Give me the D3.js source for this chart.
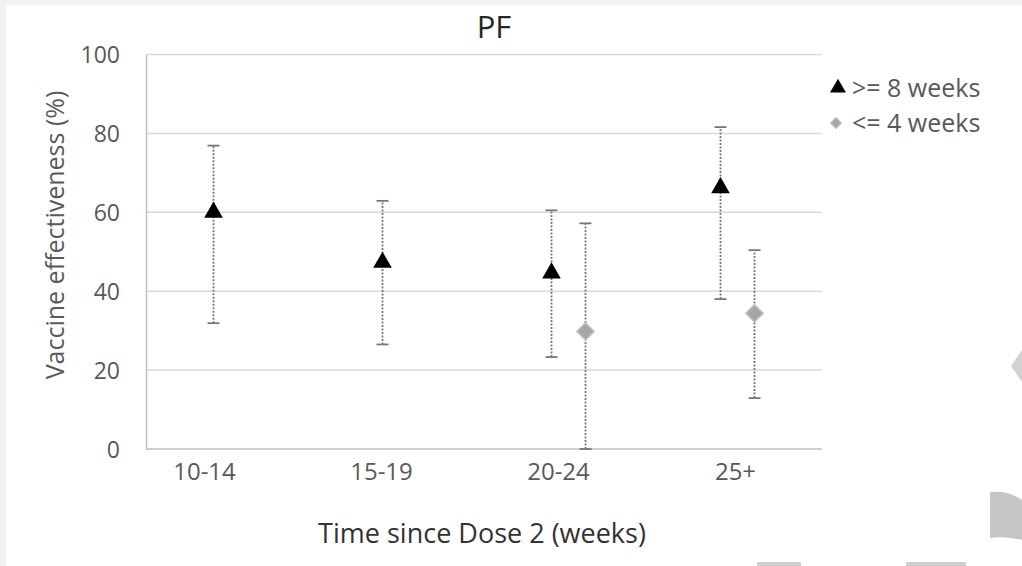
<!DOCTYPE html>
<html>
<head>
<meta charset="utf-8">
<script src="https://cdn.jsdelivr.net/npm/d3@7"></script>
<style>
	body { margin: 0; background: #f1f1f1; }
	svg { display: block; }
	text { font-family: "Open Sans", sans-serif; }
</style>
</head>
<body>
<div id="chart"></div>
<script>
/**
 * Chart data.
 */
var categories = ["10-14", "15-19", "20-24", "25+"];
var seriesNames = [">= 8 weeks", "<= 4 weeks"];
// >= 8 weeks: point estimate and 95% CI.
var long8Value = [60, 47.3, 44.6, 66.2];
var long8Lower = [31.9, 26.5, 23.3, 38];
var long8Upper = [76.9, 62.9, 60.5, 81.6];
// <= 4 weeks (only last two periods).
var short4Cats = ["20-24", "25+"];
var short4Value = [29.8, 34.4];
var short4Lower = [0, 12.9];
var short4Upper = [57.2, 50.4];
var yTicks = [0, 20, 40, 60, 80, 100];

{
	var width = 1022,
		height = 566,
		margin = { top: 54.5, right: 200, bottom: 117, left: 146 };

	var svg = d3.select("#chart").append("svg")
		.attr("width", width)
		.attr("height", height);

	// white card with grey frame on top/left
	svg.append("rect")
		.attr("x", 6).attr("y", 5)
		.attr("width", width - 6).attr("height", height - 5)
		.attr("fill", "#fff");

	// faint scan artefacts on the right edge
	svg.append("path")
		.attr("d", "M1011,366 L1022,350 L1022,382 Z")
		.attr("fill", "#d2d2d2");
	svg.append("path")
		.attr("d", "M990,492 Q1008,490 1022,500 L1022,540 Q1004,536 990,538 Z")
		.attr("fill", "#c6c6c6");
	svg.append("rect").attr("x", 757).attr("y", 562).attr("width", 44).attr("height", 4).attr("fill", "#cfcfcf");
	svg.append("rect").attr("x", 906).attr("y", 562).attr("width", 60).attr("height", 4).attr("fill", "#cfcfcf");

	var x = d3.scaleBand()
		.domain(categories)
		.range([margin.left, 822]);

	// the category labels sit slightly off the marker centres in the source
	var xLabel = d3.scalePoint()
		.domain(categories)
		.range([204, 735]);

	var xs = d3.scalePoint()
		.domain(seriesNames)
		.range([-17, 17]);

	var y = d3.scaleLinear()
		.domain([0, 100])
		.range([449, margin.top]);

	// gridlines
	svg.append("g")
		.selectAll("line")
		.data(yTicks.filter(function (d) { return d > 0; }))
		.enter().append("line")
		.attr("x1", margin.left).attr("x2", 822)
		.attr("y1", function (d) { return y(d); })
		.attr("y2", function (d) { return y(d); })
		.attr("stroke", "#d9d9d9")
		.attr("stroke-width", 1.5);

	// y axis
	var yAxis = svg.append("g")
		.attr("transform", "translate(" + margin.left + ",0)")
		.call(d3.axisLeft(y).tickValues(yTicks).tickSize(0).tickPadding(26));
	yAxis.select(".domain").attr("stroke", "#bfbfbf").attr("stroke-width", 1.5);
	yAxis.selectAll("text")
		.attr("fill", "#595959")
		.style("font-size", "23px")
		.attr("dy", "0.35em");

	// x axis
	svg.append("line")
		.attr("x1", margin.left).attr("x2", 822)
		.attr("y1", y(0)).attr("y2", y(0))
		.attr("stroke", "#bfbfbf")
		.attr("stroke-width", 1.5);

	var xAxis = svg.append("g")
		.attr("transform", "translate(0,449)")
		.call(d3.axisBottom(xLabel).tickSize(0).tickPadding(14));
	xAxis.select(".domain").remove();
	xAxis.selectAll("text")
		.attr("fill", "#595959")
		.style("font-size", "24px");

	// build rows
	var rows = [];
	categories.forEach(function (c, i) {
		rows.push({ cat: c, s: seriesNames[0], v: long8Value[i], lo: long8Lower[i], hi: long8Upper[i] });
	});
	short4Cats.forEach(function (c, i) {
		rows.push({ cat: c, s: seriesNames[1], v: short4Value[i], lo: short4Lower[i], hi: short4Upper[i] });
	});

	function cx(d) {
		return x(d.cat) + x.bandwidth() / 2 + xs(d.s);
	}

	// error bars
	var err = svg.append("g").selectAll("g")
		.data(rows)
		.enter().append("g");

	err.append("line")
		.attr("x1", cx).attr("x2", cx)
		.attr("y1", function (d) { return y(d.lo); })
		.attr("y2", function (d) { return y(d.hi); })
		.attr("stroke", "#777")
		.attr("stroke-width", 1.8)
		.attr("stroke-dasharray", "2,1.5");

	["lo", "hi"].forEach(function (k) {
		err.append("line")
			.attr("x1", function (d) { return cx(d) - 6; })
			.attr("x2", function (d) { return cx(d) + 6; })
			.attr("y1", function (d) { return y(d[k]); })
			.attr("y2", function (d) { return y(d[k]); })
			.attr("stroke", "#777")
			.attr("stroke-width", 1.8);
	});

	// markers
	var tri = d3.symbol().type(d3.symbolTriangle).size(150);
	var dia = d3.symbol().type(d3.symbolSquare).size(150);

	svg.append("g").selectAll("path")
		.data(rows)
		.enter().append("path")
		.attr("transform", function (d) {
			return "translate(" + cx(d) + "," + y(d.v) + ")" + (d.s === seriesNames[1] ? " rotate(45)" : "");
		})
		.attr("d", function (d) { return d.s === seriesNames[0] ? tri() : dia(); })
		.attr("fill", function (d) { return d.s === seriesNames[0] ? "#000" : "#a6a6a6"; })
		.attr("stroke", function (d) { return d.s === seriesNames[0] ? "none" : "#c0c0c0"; })
		.attr("stroke-width", 1.5);

	// title
	svg.append("text")
		.attr("x", 494).attr("y", 38)
		.attr("text-anchor", "middle")
		.attr("fill", "#262626")
		.style("font-size", "31px")
		.text("PF");

	// axis titles
	svg.append("text")
		.attr("transform", "translate(64,235) rotate(-90)")
		.attr("text-anchor", "middle")
		.attr("fill", "#595959")
		.style("font-size", "25px")
		.text("Vaccine effectiveness (%)");

	svg.append("text")
		.attr("x", 482).attr("y", 543)
		.attr("text-anchor", "middle")
		.attr("fill", "#333")
		.style("font-size", "27px")
		.text("Time since Dose 2 (weeks)");

	// legend
	var legend = svg.append("g")
		.attr("transform", "translate(838,0)")
		.selectAll("g")
		.data(seriesNames)
		.enter().append("g")
		.attr("transform", function (d, i) { return "translate(0," + (88 + i * 35) + ")"; });

	legend.append("path")
		.attr("transform", function (d, i) { return i ? "translate(-2,0) rotate(45)" : ""; })
		.attr("d", function (d, i) {
			return i ? d3.symbol().type(d3.symbolSquare).size(60)() : d3.symbol().type(d3.symbolTriangle).size(110)();
		})
		.attr("fill", function (d, i) { return i ? "#a6a6a6" : "#000"; })
		.attr("stroke", function (d, i) { return i ? "#c0c0c0" : "none"; });

	legend.append("text")
		.attr("x", 14)
		.attr("dy", "0.35em")
		.attr("fill", "#595959")
		.style("font-size", "25px")
		.text(function (d) { return d; });
}
</script>
</body>
</html>
